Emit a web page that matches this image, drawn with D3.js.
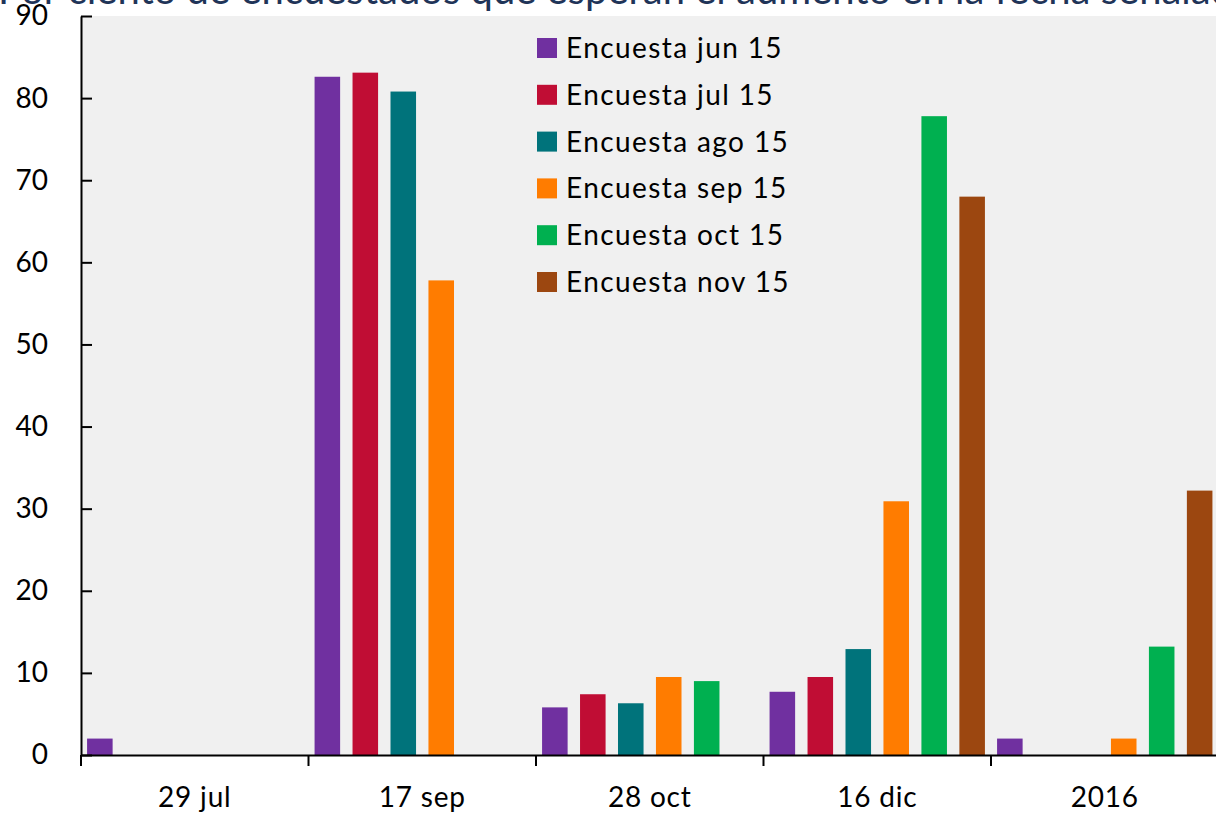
<!DOCTYPE html>
<html>
<head>
<meta charset="utf-8">
<script src="https://cdn.jsdelivr.net/npm/d3@7"></script>
<style>
  html, body { margin: 0; padding: 0; background: #ffffff; overflow: hidden; }
  svg { display: block; font-family: Lato, "Open Sans", sans-serif; }
</style>
</head>
<body>
<svg id="chart" width="1216" height="817"></svg>
<script>
// Meeting dates on the horizontal axis
const categories = ["29 jul", "17 sep", "28 oct", "16 dic", "2016"];

// Survey rounds (one bar series each)
const seriesNames = ["Encuesta jun 15", "Encuesta jul 15", "Encuesta ago 15",
                     "Encuesta sep 15", "Encuesta oct 15", "Encuesta nov 15"];
const seriesColors = ["#7030A0", "#C00D34", "#00737B", "#FF7C00", "#00B050", "#9C4710"];

// Percent of respondents expecting the hike at each date, per survey
const encuestaJun = [2.0, 82.6, 5.8, 7.7, 2.0];
const encuestaJul = [0, 83.1, 7.4, 9.5, 0];
const encuestaAgo = [0, 80.8, 6.3, 12.9, 0];
const encuestaSep = [0, 57.8, 9.5, 30.9, 2.0];
const encuestaOct = [0, 0, 9.0, 77.8, 13.2];
const encuestaNov = [0, 0, 0, 68.0, 32.2];

const yTicks = [0, 10, 20, 30, 40, 50, 60, 70, 80, 90];
const title = "Por ciento de encuestados que esperan el aumento en la fecha señalada";

const seriesValues = [encuestaJun, encuestaJul, encuestaAgo, encuestaSep, encuestaOct, encuestaNov];
const series = seriesNames.map((name, i) => ({ name, color: seriesColors[i], values: seriesValues[i] }));

const svg = d3.select("#chart");
const plotLeft = 81, plotRight = 1218.5, plotTop = 16, plotBottom = 755;

const x = d3.scaleBand().domain(categories).range([plotLeft, plotRight]).padding(0);
const xs = d3.scaleBand().domain(seriesNames).range([0, x.bandwidth()])
  .paddingInner(0.327).paddingOuter(0.16);
const y = d3.scaleLinear().domain([0, 90]).range([plotBottom, plotTop]);

// Title (sits above the plot, mostly beyond the top edge)
svg.append("text")
  .attr("x", -2).attr("y", 4)
  .attr("fill", "#1F3458")
  .attr("font-size", 40)
  .text(title);

// Plot background
svg.append("rect")
  .attr("x", plotLeft).attr("y", plotTop)
  .attr("width", 1216 - plotLeft).attr("height", plotBottom - plotTop)
  .attr("fill", "#F0F0F0");

// Bars
const groups = svg.append("g").selectAll("g")
  .data(series).join("g")
  .attr("fill", d => d.color);

groups.selectAll("rect")
  .data(d => d.values.map((v, j) => ({ name: d.name, cat: categories[j], v })).filter(d => d.v > 0))
  .join("rect")
  .attr("x", d => x(d.cat) + xs(d.name))
  .attr("width", xs.bandwidth())
  .attr("y", d => y(d.v))
  .attr("height", d => y(0) - y(d.v));

// Y axis with inward ticks
const yAxis = svg.append("g")
  .attr("transform", `translate(${plotLeft},0)`)
  .call(d3.axisLeft(y).tickValues(yTicks).tickFormat(d3.format("d"))
    .tickSizeInner(-11).tickSizeOuter(0).tickPadding(33));
yAxis.select(".domain").attr("stroke", "#000").attr("stroke-width", 2);
yAxis.selectAll(".tick line").attr("stroke", "#000").attr("stroke-width", 2);
yAxis.selectAll(".tick text")
  .attr("font-family", "Lato, sans-serif")
  .attr("font-size", 28).attr("fill", "#000");

// X axis: labels centred in each band, ticks on band boundaries
const xAxis = svg.append("g")
  .attr("transform", `translate(0,${plotBottom})`)
  .call(d3.axisBottom(x).tickSize(0).tickPadding(32));
xAxis.select(".domain").attr("stroke", "#000").attr("stroke-width", 2);
xAxis.selectAll(".tick text")
  .attr("font-family", "Lato, sans-serif")
  .attr("font-size", 28).attr("letter-spacing", 0.8).attr("fill", "#000");

svg.append("g").selectAll("line")
  .data(categories).join("line")
  .attr("x1", d => x(d)).attr("x2", d => x(d))
  .attr("y1", plotBottom).attr("y2", plotBottom + 11)
  .attr("stroke", "#000").attr("stroke-width", 2);

// Legend
const legend = svg.append("g").attr("transform", "translate(537,38)");
const rows = legend.selectAll("g").data(series).join("g")
  .attr("transform", (d, i) => `translate(0,${i * 46.8})`);
rows.append("rect").attr("width", 20).attr("height", 20).attr("fill", d => d.color);
rows.append("text")
  .attr("x", 29).attr("y", 20)
  .attr("font-size", 28).attr("letter-spacing", 1.4).attr("fill", "#000")
  .text(d => d.name);
</script>
</body>
</html>
